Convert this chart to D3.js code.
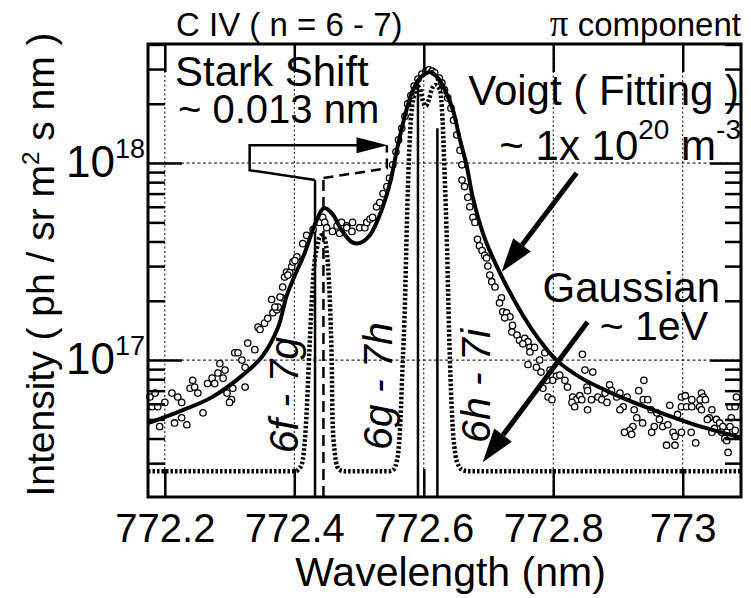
<!DOCTYPE html>
<meta charset="utf-8">
<style>
  body { margin: 0; background: #fff; }
  text { font-family: "Liberation Sans", Arial, sans-serif; fill: #000; }
</style>
<svg width="751" height="598"></svg>
<script src="https://d3js.org/d3.v7.min.js"></script>
<script>

// wavelength (nm) / intensity (ph / sr m2 s nm)
var lambdaTicks = [772.2, 772.4, 772.6, 772.8, 773];
var intensityMajor = [1e17, 1e18];
var transitions = ["6f - 7g", "6g - 7h", "6h - 7i"];
var lineCentres = [772.432, 772.591, 772.621];
var shiftedCentres = [772.445];

var measured = [
  [772.177, 6.5e16], [772.185, 6.8e16], [772.180, 5.8e16], [772.189, 5.8e16], [772.200, 6.1e16],
  [772.211, 6.8e16], [772.220, 6.5e16], [772.226, 6.1e16], [772.192, 4.6e16], [772.215, 4.8e16],
  [772.234, 4.7e16], [772.226, 5.1e16], [772.239, 7.2e16], [772.243, 7.9e16], [772.246, 7.3e16],
  [772.251, 6.8e16], [772.259, 5.4e16], [772.266, 7.6e16], [772.273, 8.1e16], [772.277, 7.6e16],
  [772.282, 8.6e16], [772.285, 9.6e16], [772.293, 8.9e16], [772.290, 8.1e16], [772.296, 6.8e16],
  [772.303, 6.3e16], [772.305, 7.2e16], [772.300, 6.1e16], [772.308, 1.09e17], [772.313, 1.09e17],
  [772.319, 1.0e17], [772.324, 7.3e16], [772.324, 9.2e16], [772.328, 1.22e17], [772.339, 1.13e17],
  [772.344, 1.47e17], [772.347, 1.43e17], [772.354, 1.54e17], [772.359, 1.63e17], [772.365, 2.03e17],
  [772.367, 1.74e17], [772.373, 1.80e17], [772.375, 1.86e17], [772.381, 2.07e17], [772.385, 2.64e17],
  [772.388, 2.8e17], [772.393, 2.78e17], [772.396, 2.98e17], [772.398, 3.15e17], [772.370, 1.86e17],
  [772.378, 2.09e17], [772.390, 2.7e17], [772.382, 2.35e17], [772.404, 3.34e17], [772.401, 3.2e17],
  [772.413, 3.9e17], [772.419, 4.3e17], [772.429, 4.6e17], [772.439, 5.0e17], [772.444, 5.3e17],
  [772.447, 5.0e17], [772.450, 4.7e17], [772.459, 4.5e17], [772.466, 4.8e17], [772.470, 4.4e17],
  [772.473, 5.0e17], [772.481, 4.8e17], [772.481, 4.7e17], [772.490, 5.0e17], [772.489, 4.5e17],
  [772.501, 4.7e17], [772.509, 4.7e17], [772.512, 5.0e17], [772.517, 5.2e17], [772.521, 5.3e17],
  [772.527, 6.0e17], [772.532, 6.3e17], [772.537, 7.0e17], [772.543, 7.6e17], [772.547, 8.4e17],
  [772.552, 9.8e17], [772.557, 1.14e18], [772.561, 1.31e18], [772.566, 1.5e18], [772.571, 1.73e18],
  [772.575, 2.0e18], [772.580, 2.2e18], [772.585, 2.46e18], [772.591, 2.67e18], [772.597, 2.83e18],
  [772.603, 2.93e18], [772.608, 2.97e18], [772.613, 2.93e18], [772.617, 2.87e18], [772.624, 2.7e18],
  [772.628, 2.55e18], [772.632, 2.35e18], [772.637, 2.14e18], [772.642, 1.9e18], [772.646, 1.65e18],
  [772.651, 1.39e18], [772.656, 1.16e18], [772.659, 9.8e17], [772.659, 8.2e17], [772.663, 7.6e17],
  [772.668, 6.7e17], [772.671, 6.0e17], [772.676, 5.3e17], [772.679, 5.0e17], [772.683, 4.1e17],
  [772.686, 3.8e17], [772.690, 3.6e17], [772.694, 3.4e17], [772.697, 3.3e17], [772.699, 3.0e17],
  [772.702, 2.7e17], [772.705, 2.5e17], [772.710, 2.35e17], [772.720, 2.07e17], [772.717, 1.95e17],
  [772.722, 1.76e17], [772.728, 1.74e17], [772.733, 1.66e17], [772.725, 1.64e17], [772.737, 1.5e17],
  [772.736, 1.39e17], [772.744, 1.34e17], [772.748, 1.26e17], [772.756, 1.29e17], [772.761, 1.24e17],
  [772.764, 1.16e17], [772.753, 1.21e17], [772.764, 1.1e17], [772.771, 1.16e17], [772.761, 9.5e16],
  [772.774, 9.2e16], [772.781, 8.7e16], [772.787, 1.09e17], [772.779, 1.0e17], [772.795, 8.9e16],
  [772.805, 8.3e16], [772.799, 7.9e16], [772.790, 7.9e16], [772.784, 7.2e16], [772.792, 6.5e16],
  [772.798, 6.3e16], [772.810, 8.4e16], [772.818, 7.9e16], [772.822, 7.3e16], [772.845, 1.07e17],
  [772.849, 8.9e16], [772.861, 8.7e16], [772.852, 7.3e16], [772.853, 7.0e16], [772.830, 6.5e16],
  [772.836, 6.3e16], [772.829, 6.1e16], [772.833, 5.8e16], [772.841, 6.6e16], [772.844, 6.3e16],
  [772.853, 5.6e16], [772.859, 6.3e16], [772.869, 6.5e16], [772.875, 6.3e16], [772.880, 6.8e16],
  [772.887, 7.5e16], [772.890, 7.0e16], [772.883, 6.1e16], [772.898, 6.5e16], [772.903, 6.8e16],
  [772.914, 6.5e16], [772.908, 5.8e16], [772.925, 5.6e16], [772.932, 7.0e16], [772.940, 7.9e16],
  [772.939, 6.3e16], [772.946, 6.3e16], [772.951, 5.6e16], [772.929, 5.1e16], [772.938, 4.8e16],
  [772.960, 5.4e16], [772.964, 5.0e16], [772.969, 4.6e16], [772.977, 4.7e16], [772.980, 5.9e16],
  [772.923, 4.6e16], [772.918, 4.4e16], [772.910, 4.3e16], [772.921, 4.2e16], [772.956, 4.6e16],
  [772.952, 4.3e16], [772.985, 4.3e16], [772.992, 5.3e16], [772.988, 4.1e16], [772.975, 3.7e16],
  [772.988, 3.7e16], [772.998, 6.5e16], [773.004, 6.6e16], [772.998, 5.8e16], [773.006, 5.8e16],
  [773.014, 5.8e16], [773.014, 6.3e16], [773.029, 6.8e16], [773.032, 6.5e16], [773.027, 6.3e16],
  [773.035, 6.3e16], [773.026, 5.8e16], [773.029, 5.6e16], [773.045, 5.6e16], [773.041, 5.1e16],
  [773.038, 5.0e16], [773.052, 5.0e16], [773.057, 4.8e16], [773.062, 4.6e16], [773.049, 4.5e16],
  [773.045, 4.3e16], [773.060, 4.3e16], [773.068, 4.3e16], [773.065, 4.0e16], [773.073, 5.8e16],
  [773.081, 5.8e16], [773.083, 6.5e16], [773.075, 5.1e16], [773.073, 4.6e16], [773.081, 4.4e16],
  [773.068, 3.9e16], [773.070, 3.4e16], [773.020, 3.8e16], [773.013, 4.3e16], [772.998, 4.3e16],
  [772.903, 5.6e16]
];

var voigt = [
  [772.174, 4.79e16], [772.220, 5.45e16], [772.273, 6.49e16], [772.324, 8.59e16], [772.350, 1.04e17],
  [772.375, 1.47e17], [772.388, 2.11e17], [772.401, 2.70e17], [772.416, 3.49e17], [772.432, 4.90e17],
  [772.446, 5.91e17], [772.459, 5.51e17], [772.473, 4.57e17], [772.489, 3.97e17], [772.501, 3.93e17],
  [772.517, 4.32e17], [772.532, 5.45e17], [772.547, 7.73e17], [772.560, 1.23e18], [772.571, 1.75e18],
  [772.582, 2.29e18], [772.594, 2.70e18], [772.610, 2.90e18], [772.622, 2.70e18], [772.634, 2.29e18],
  [772.645, 1.86e18], [772.656, 1.31e18], [772.666, 9.77e17], [772.676, 6.64e17], [772.694, 4.16e17],
  [772.717, 2.80e17], [772.753, 1.69e17], [772.779, 1.26e17], [772.805, 1.0e17], [772.841, 8.2e16],
  [772.887, 6.88e16], [772.934, 5.92e16], [773.011, 4.79e16], [773.088, 4.06e16]
];

var gaussian = [
  [772.174, 2.73e16], [772.402, 2.73e16], [772.407, 2.8e16], [772.412, 3.0e16], [772.415, 3.5e16],
  [772.418, 4.7e16], [772.421, 7.5e16], [772.424, 1.26e17], [772.427, 2.0e17], [772.430, 2.86e17],
  [772.435, 3.7e17], [772.439, 4.2e17], [772.442, 4.3e17], [772.446, 4.2e17], [772.450, 3.6e17],
  [772.453, 2.7e17], [772.456, 1.6e17], [772.458, 8.9e16], [772.459, 5.0e16], [772.463, 3.3e16],
  [772.466, 2.9e16], [772.470, 2.77e16], [772.478, 2.73e16], [772.547, 2.73e16], [772.554, 2.8e16],
  [772.558, 3.05e16], [772.561, 3.5e16], [772.564, 5.0e16], [772.567, 8.9e16], [772.571, 2.0e17],
  [772.574, 5.1e17], [772.577, 1.04e18], [772.580, 1.65e18], [772.585, 2.2e18], [772.589, 2.46e18],
  [772.594, 2.4e18], [772.598, 2.1e18], [772.603, 1.95e18], [772.608, 2.1e18], [772.612, 2.35e18],
  [772.618, 2.49e18], [772.625, 2.35e18], [772.629, 1.65e18], [772.632, 9.2e17], [772.636, 3.6e17],
  [772.639, 1.43e17], [772.642, 7.0e16], [772.645, 4.4e16], [772.649, 3.3e16], [772.654, 2.9e16],
  [772.660, 2.77e16], [772.668, 2.73e16], [773.090, 2.73e16]
];

var svg = d3.select("svg"),
    margin = {top: 44, right: 10, bottom: 101, left: 148},
    width = +svg.attr("width") - margin.left - margin.right,
    height = +svg.attr("height") - margin.top - margin.bottom,
    g = svg.append("g").attr("transform", "translate(" + margin.left + "," + margin.top + ")");

var x = d3.scaleLinear().domain([772.174, 773.090]).range([0, width]);
var y = d3.scaleLog().domain([2.02e16, 4.02e18]).range([height, 0]);

var minorY = y.ticks().filter(function(d) { return intensityMajor.indexOf(d) < 0; });

// grid
g.selectAll(".gx").data(lambdaTicks).enter().append("line")
    .attr("x1", x).attr("x2", x).attr("y1", 0).attr("y2", height)
    .attr("stroke", "#000").attr("stroke-width", 1).attr("stroke-dasharray", "2,2.5");
g.selectAll(".gy").data(intensityMajor).enter().append("line")
    .attr("y1", y).attr("y2", y).attr("x1", 0).attr("x2", width)
    .attr("stroke", "#000").attr("stroke-width", 1).attr("stroke-dasharray", "3,2.5");

// gaussian (dotted)
var line = d3.line()
    .curve(d3.curveMonotoneX)
    .x(function(d) { return x(d[0]); })
    .y(function(d) { return y(d[1]); });

g.append("path")
    .datum(gaussian)
    .attr("fill", "none")
    .attr("stroke", "#000")
    .attr("stroke-width", 4.5)
    .attr("stroke-dasharray", "2.5,2")
    .attr("d", line);

// line centres
var tipY = [8.2e17, 2.6e18, 1.5e18];
g.selectAll(".lc").data(lineCentres).enter().append("line")
    .attr("x1", x).attr("x2", x)
    .attr("y1", height).attr("y2", function(d, i) { return y(tipY[i]); })
    .attr("stroke", "#000").attr("stroke-width", 2.5);
g.selectAll(".ls").data(shiftedCentres).enter().append("line")
    .attr("x1", x).attr("x2", x)
    .attr("y1", height).attr("y2", y(8.4e17))
    .attr("stroke", "#000").attr("stroke-width", 2.5).attr("stroke-dasharray", "11,6");

// measured points
g.selectAll("circle").data(measured).enter().append("circle")
    .attr("cx", function(d) { return x(d[0]); })
    .attr("cy", function(d) { return y(d[1]); })
    .attr("r", 3.2)
    .attr("fill", "#fff")
    .attr("stroke", "#000")
    .attr("stroke-width", 1.3);

// voigt fit
g.append("path")
    .datum(voigt)
    .attr("fill", "none")
    .attr("stroke", "#000")
    .attr("stroke-width", 4)
    .attr("d", line.curve(d3.curveCatmullRom));

// axes
function clean(sel) { sel.select(".domain").remove(); sel.selectAll("line").attr("stroke-width", 2.5); }

g.append("g").attr("transform", "translate(0," + height + ")")
    .call(d3.axisBottom(x).tickValues(lambdaTicks).tickSizeInner(-28).tickSizeOuter(0)
      .tickPadding(17).tickFormat(d3.format("")))
    .call(clean)
    .selectAll("text").attr("font-size", 40).attr("font-family", "Liberation Sans, Arial");
g.append("g")
    .call(d3.axisBottom(x).tickValues(lambdaTicks).tickSize(28).tickFormat(""))
    .call(clean);

g.append("g").call(d3.axisRight(y).tickValues(intensityMajor).tickSize(34).tickFormat("")).call(clean);
g.append("g").call(d3.axisRight(y).tickValues(minorY).tickSize(17).tickFormat("")).call(clean);
g.append("g").attr("transform", "translate(" + width + ",0)")
    .call(d3.axisLeft(y).tickValues(intensityMajor).tickSize(31).tickFormat("")).call(clean);
g.append("g").attr("transform", "translate(" + width + ",0)")
    .call(d3.axisLeft(y).tickValues(minorY).tickSize(16).tickFormat("")).call(clean);

// y labels 10^n
var ylab = g.selectAll(".ylab").data(intensityMajor).enter().append("text")
    .attr("x", -3).attr("y", function(d) { return y(d) + 14; })
    .attr("text-anchor", "end").attr("font-size", 44);
ylab.append("tspan").text("10");
ylab.append("tspan").attr("dy", -19).attr("font-size", 27)
    .text(function(d) { return Math.round(Math.log10(d)); });

// frame
g.append("rect").attr("width", width).attr("height", height)
    .attr("fill", "none").attr("stroke", "#000").attr("stroke-width", 3);

// titles
svg.append("text").attr("x", 176).attr("y", 36).attr("font-size", 33).text("C IV ( n = 6 - 7)");
var pc = svg.append("text").attr("x", 741).attr("y", 36).attr("text-anchor", "end").attr("font-size", 33);
pc.append("tspan").attr("font-family", "Liberation Serif, Times New Roman, serif").attr("font-size", 37).text("\u03c0");
pc.append("tspan").text(" component");

svg.append("text").attr("x", margin.left + width / 2 + 6).attr("y", 586)
    .attr("text-anchor", "middle").attr("font-size", 41).text("Wavelength (nm)");

var yt = svg.append("text")
    .attr("transform", "translate(54," + (margin.top + height / 2 - 6) + ") rotate(-90)")
    .attr("text-anchor", "middle").attr("font-size", 39);
yt.append("tspan").text("Intensity ( ph / sr m");
yt.append("tspan").attr("dy", -15).attr("font-size", 24).text("2");
yt.append("tspan").attr("dy", 15).text(" s nm )");

// transition labels
var labPos = [[772.405, 3.37e16], [772.551, 3.5e16], [772.702, 3.8e16]];
g.selectAll(".tl").data(transitions).enter().append("text")
    .attr("transform", function(d, i) {
      return "translate(" + x(labPos[i][0]) + "," + y(labPos[i][1]) + ") rotate(-90)";
    })
    .attr("font-size", 41).attr("font-style", "italic").text(function(d) { return d; });

// annotations
svg.append("text").attr("x", 175).attr("y", 86).attr("font-size", 42).text("Stark Shift");
svg.append("text").attr("x", 178).attr("y", 123).attr("font-size", 40).text("~ 0.013 nm");
svg.append("text").attr("x", 739).attr("y", 105).attr("text-anchor", "end").attr("font-size", 42).text("Voigt ( Fitting )");
var nd = svg.append("text").attr("x", 741).attr("y", 160).attr("text-anchor", "end").attr("font-size", 42);
nd.append("tspan").text("~ 1x 10");
nd.append("tspan").attr("dy", -21).attr("font-size", 28).text("20");
nd.append("tspan").attr("dy", 21).text(" m");
nd.append("tspan").attr("dy", -21).attr("font-size", 28).text("-3");
svg.append("text").attr("x", 720).attr("y", 302).attr("text-anchor", "end").attr("font-size", 42).text("Gaussian");
svg.append("text").attr("x", 708).attr("y", 340).attr("text-anchor", "end").attr("font-size", 41).text("~ 1eV");

// stark shift bracket
var bracket = [[772.432, 8.2e17], [772.331, 9.2e17], [772.331, 1.23e18], [772.520, 1.23e18]];
var bracketShift = [[772.445, 8.4e17], [772.543, 9.4e17], [772.543, 1.23e18]];
var pl = d3.line().x(function(d) { return x(d[0]); }).y(function(d) { return y(d[1]); });
g.append("path").attr("d", pl(bracket)).attr("fill", "none").attr("stroke", "#000").attr("stroke-width", 2.5);
g.append("path").attr("d", pl(bracketShift)).attr("fill", "none").attr("stroke", "#000")
    .attr("stroke-width", 2.5).attr("stroke-dasharray", "10,6");

function arrow(from, to, w, headLen, headW) {
  var x0 = x(from[0]), y0 = y(from[1]), x1 = x(to[0]), y1 = y(to[1]);
  var dx = x1 - x0, dy = y1 - y0, L = Math.sqrt(dx * dx + dy * dy), ux = dx / L, uy = dy / L;
  var bx = x1 - ux * headLen, by = y1 - uy * headLen;
  g.append("line").attr("x1", x0).attr("y1", y0).attr("x2", bx).attr("y2", by)
    .attr("stroke", "#000").attr("stroke-width", w);
  g.append("path").attr("fill", "#000")
    .attr("d", "M" + x1 + "," + y1 + "L" + (bx - uy * headW) + "," + (by + ux * headW) +
      "L" + (bx + uy * headW) + "," + (by - ux * headW) + "Z");
}
arrow([772.520, 1.23e18], [772.544, 1.23e18], 2.5, 31, 8);
arrow([772.836, 8.9e17], [772.720, 2.8e17], 5, 34, 11);
arrow([772.853, 1.56e17], [772.691, 3.03e16], 5, 34, 11);

</script>
